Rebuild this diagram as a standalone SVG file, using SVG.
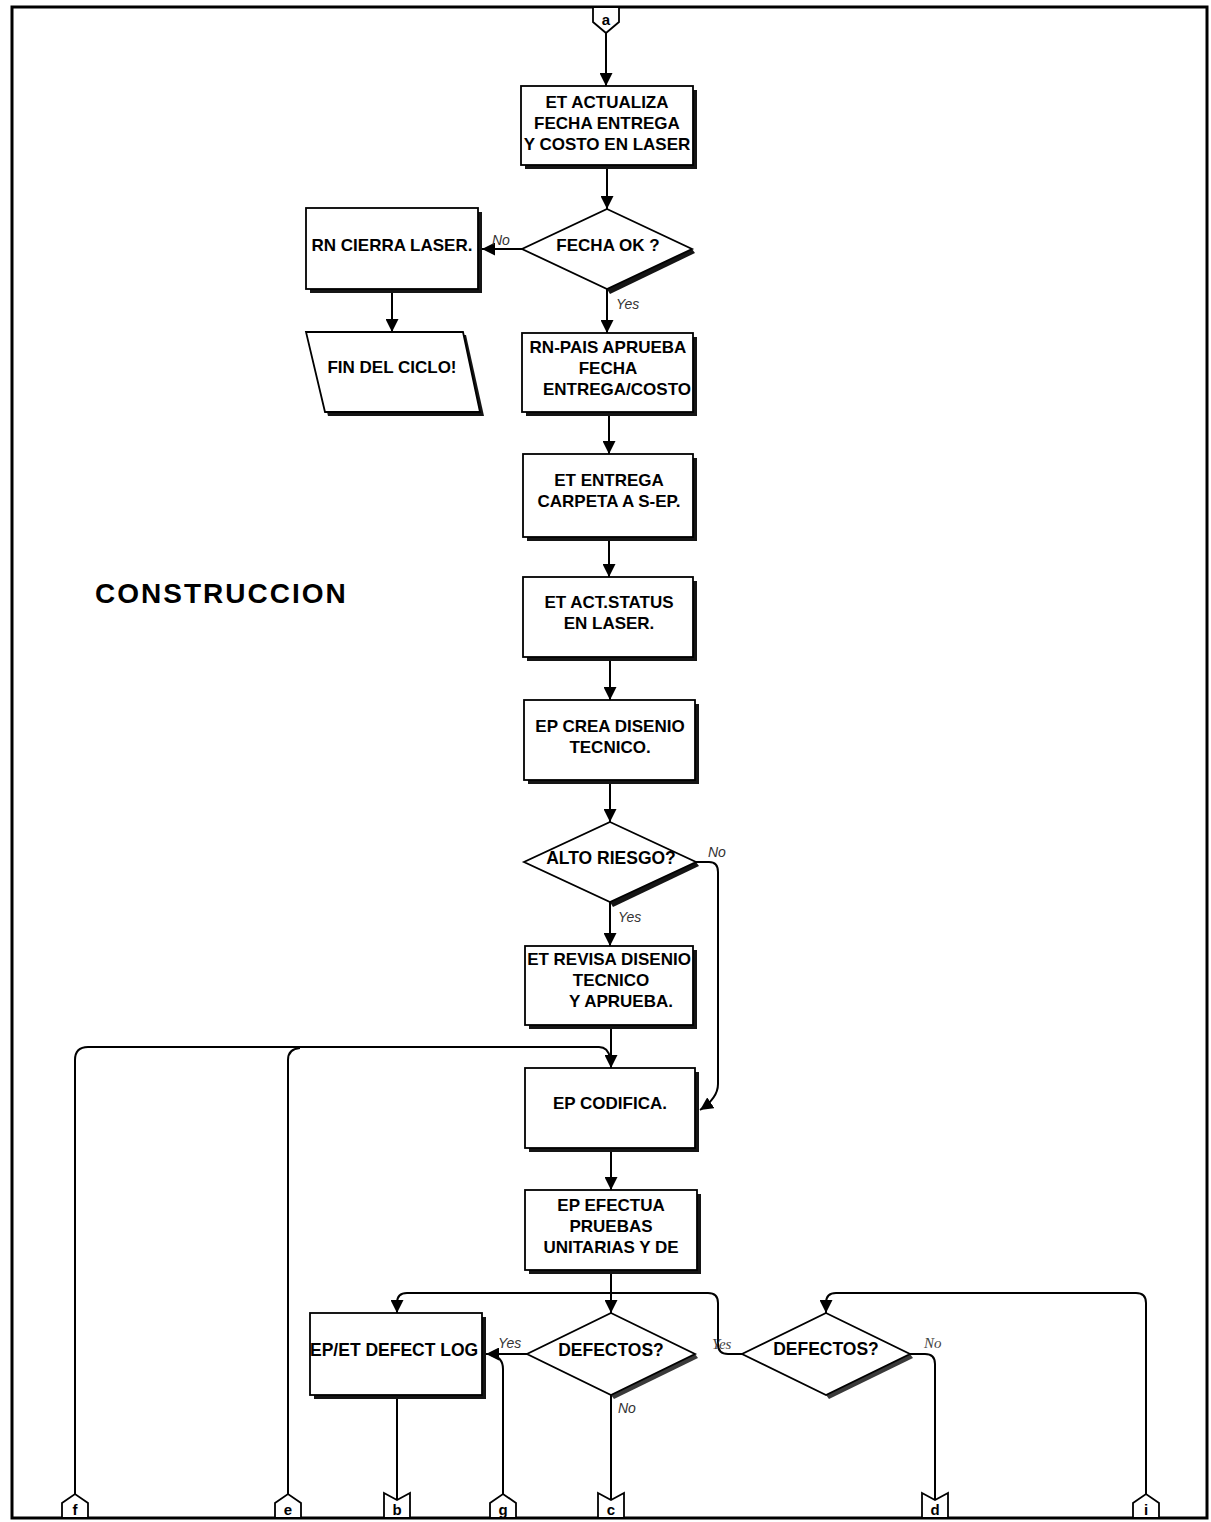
<svg xmlns="http://www.w3.org/2000/svg" width="1211" height="1522" viewBox="0 0 1211 1522">
  <style>
    .box { fill: #fff; stroke: #000; stroke-width: 1.8; }
    .sh { fill: #151515; stroke: none; }
    .sh2 { fill: #3a3a3a; stroke: none; }
    .t { font-family: "Liberation Sans", Arial, sans-serif; font-weight: bold; font-size: 17px; fill: #000; text-anchor: middle; }
    .ts { text-anchor: start; }
    .lbl { font-family: "Liberation Sans", Arial, sans-serif; font-style: italic; font-size: 14px; fill: #333; }
    .lbls { font-family: "Liberation Serif", "Times New Roman", serif; font-style: italic; font-size: 15px; fill: #444; }
    .cn { font-family: "Liberation Sans", Arial, sans-serif; font-weight: bold; font-size: 15px; fill: #000; text-anchor: middle; }
    .ln { fill: none; stroke: #000; stroke-width: 2; }
    .arr { marker-end: url(#ah); }
    .title { font-family: "Liberation Sans", Arial, sans-serif; font-weight: bold; font-size: 28px; letter-spacing: 2px; fill: #000; }
  </style>
  <defs>
    <marker id="ah" viewBox="0 0 10 10" refX="10" refY="5" markerWidth="13" markerHeight="13" markerUnits="userSpaceOnUse" orient="auto">
      <path d="M0,0 L10,5 L0,10 z" fill="#000"/>
    </marker>
    <clipPath id="clipPais">
      <rect x="522" y="333" width="171" height="79"/>
    </clipPath>
  </defs>

  <rect x="0" y="0" width="1211" height="1522" fill="#fff"/>
  <!-- page frame -->
  <rect x="12" y="7" width="1195" height="1511" fill="none" stroke="#000" stroke-width="3"/>

  <text class="title" x="95" y="603">CONSTRUCCION</text>

  <!-- connectors -->
  <g id="connectors">
    <path class="ln arr" d="M606,33 V86"/>
    <path class="ln arr" d="M607,165 V209"/>
    <path class="ln arr" d="M522,249 H482"/>
    <path class="ln arr" d="M392,293 V332"/>
    <path class="ln arr" d="M607,289 V333"/>
    <path class="ln arr" d="M609,412 V454"/>
    <path class="ln arr" d="M609,537 V577"/>
    <path class="ln arr" d="M610,657 V700"/>
    <path class="ln arr" d="M610,780 V822"/>
    <path class="ln arr" d="M610,902 V946"/>
    <path class="ln arr" d="M696,862 H709 Q718,862 718,872 V1084 Q718,1098 700,1110"/>
    <path class="ln arr" d="M611,1025 V1068"/>
    <path class="ln" d="M75,1494 V1060 Q75,1047 88,1047 H599 Q608,1047 610,1058"/>
    <path class="ln" d="M288,1494 V1060 Q288,1049 300,1048"/>
    <path class="ln arr" d="M611,1148 V1190"/>
    <path class="ln arr" d="M611,1270 V1313"/>
    <path class="ln arr" d="M742,1354 H728 Q718,1354 718,1344 V1303 Q718,1293 708,1293 H407 Q397,1293 397,1303 V1313"/>
    <path class="ln arr" d="M527,1354 H486"/>
    <path class="ln" d="M503,1494 V1369 Q503,1357 491,1355"/>
    <path class="ln" d="M397,1399 V1500"/>
    <path class="ln" d="M611,1395 V1500"/>
    <path class="ln" d="M910,1354 H925 Q935,1354 935,1364 V1500"/>
    <path class="ln arr" d="M1146,1494 V1303 Q1146,1293 1136,1293 H836 Q826,1293 826,1303 V1313"/>
  </g>

  <!-- off-page connector a -->
  <g id="conn-a">
    <polygon class="box" points="593,7 619,7 619,22 606,33 593,22"/>
    <text class="cn" x="606" y="25">a</text>
  </g>

  <g id="n-actualiza">
    <rect class="sh" x="525" y="90" width="172" height="79"/>
    <rect class="box" x="521" y="86" width="172" height="79"/>
    <text class="t" x="607" y="108">ET ACTUALIZA</text>
    <text class="t" x="607" y="129">FECHA ENTREGA</text>
    <text class="t" x="607" y="150">Y COSTO EN LASER</text>
  </g>

  <g id="d-fecha">
    <polygon class="sh" points="692,249 695,253 610,294 607,289"/>
    <polygon class="box" points="607,209 692,249 607,289 522,249"/>
    <text class="t" x="608" y="251">FECHA OK ?</text>
  </g>
  <text class="lbl" x="492" y="245">No</text>
  <text class="lbl" x="616" y="309">Yes</text>

  <g id="n-cierra">
    <rect class="sh" x="310" y="212" width="172" height="81"/>
    <rect class="box" x="306" y="208" width="172" height="81"/>
    <text class="t" x="392" y="251">RN CIERRA LASER.</text>
  </g>

  <g id="n-fin">
    <polygon class="sh" points="309,335 466,335 484,416 328,416"/>
    <polygon class="box" points="306,332 463,332 480,412 325,412"/>
    <text class="t" x="392" y="373">FIN DEL CICLO!</text>
  </g>

  <g id="n-pais">
    <rect class="sh" x="526" y="337" width="171" height="79"/>
    <rect class="box" x="522" y="333" width="171" height="79"/>
    <text class="t" x="608" y="353">RN-PAIS APRUEBA</text>
    <text class="t" x="608" y="374">FECHA</text>
    <text class="t ts" x="543" y="395" clip-path="url(#clipPais)">ENTREGA/COSTO</text>
  </g>

  <g id="n-entrega">
    <rect class="sh" x="527" y="458" width="170" height="83"/>
    <rect class="box" x="523" y="454" width="170" height="83"/>
    <text class="t" x="609" y="486">ET ENTREGA</text>
    <text class="t" x="609" y="507">CARPETA A S-EP.</text>
  </g>

  <g id="n-status">
    <rect class="sh" x="527" y="581" width="170" height="80"/>
    <rect class="box" x="523" y="577" width="170" height="80"/>
    <text class="t" x="609" y="608">ET ACT.STATUS</text>
    <text class="t" x="609" y="629">EN LASER.</text>
  </g>

  <g id="n-disenio">
    <rect class="sh" x="528" y="704" width="171" height="80"/>
    <rect class="box" x="524" y="700" width="171" height="80"/>
    <text class="t" x="610" y="732">EP CREA DISENIO</text>
    <text class="t" x="610" y="753">TECNICO.</text>
  </g>

  <g id="d-riesgo">
    <polygon class="sh" points="696,862 699,866 613,907 610,902"/>
    <polygon class="box" points="610,822 696,862 610,902 524,862"/>
    <text class="t" x="611" y="864" style="font-size:17.5px">ALTO RIESGO?</text>
  </g>
  <text class="lbl" x="708" y="857">No</text>
  <text class="lbl" x="618" y="922">Yes</text>

  <g id="n-revisa">
    <rect class="sh" x="529" y="950" width="168" height="79"/>
    <rect class="box" x="525" y="946" width="168" height="79"/>
    <text class="t" x="609" y="965">ET REVISA DISENIO</text>
    <text class="t" x="611" y="986">TECNICO</text>
    <text class="t" x="621" y="1007">Y APRUEBA.</text>
  </g>

  <g id="n-codifica">
    <rect class="sh" x="529" y="1072" width="170" height="80"/>
    <rect class="box" x="525" y="1068" width="170" height="80"/>
    <text class="t" x="610" y="1109">EP CODIFICA.</text>
  </g>

  <g id="n-pruebas">
    <rect class="sh" x="529" y="1194" width="172" height="80"/>
    <rect class="box" x="525" y="1190" width="172" height="80"/>
    <text class="t" x="611" y="1211">EP EFECTUA</text>
    <text class="t" x="611" y="1232">PRUEBAS</text>
    <text class="t" x="611" y="1253">UNITARIAS Y DE</text>
  </g>

  <g id="n-defectlog">
    <rect class="sh" x="314" y="1317" width="172" height="82"/>
    <rect class="box" x="310" y="1313" width="172" height="82"/>
    <text class="t ts" x="310" y="1356" style="font-size:17.5px">EP/ET DEFECT LOG</text>
  </g>

  <g id="d-defectos1">
    <polygon class="sh2" points="695,1354 698,1358 614,1399 611,1395"/>
    <polygon class="box" points="611,1313 695,1354 611,1395 527,1354"/>
    <text class="t" x="611" y="1356" style="font-size:17.5px">DEFECTOS?</text>
  </g>
  <text class="lbl" x="498" y="1348">Yes</text>
  <text class="lbl" x="618" y="1413">No</text>

  <g id="d-defectos2">
    <polygon class="sh2" points="910,1354 913,1358 829,1399 826,1395"/>
    <polygon class="box" points="826,1313 910,1354 826,1395 742,1354"/>
    <text class="t" x="826" y="1355" style="font-size:17.5px">DEFECTOS?</text>
  </g>
  <text class="lbls" x="712" y="1349">Yes</text>
  <text class="lbls" x="924" y="1348">No</text>

  <!-- off-page connectors along the bottom edge -->
  <g id="conn-f">
    <polygon class="box" points="62,1518 62,1503 75,1494 88,1503 88,1518"/>
    <text class="cn" x="75" y="1515">f</text>
  </g>
  <g id="conn-e">
    <polygon class="box" points="275,1518 275,1503 288,1494 301,1503 301,1518"/>
    <text class="cn" x="288" y="1515">e</text>
  </g>
  <g id="conn-b">
    <polygon class="box" points="384,1493 397,1500 410,1493 410,1518 384,1518"/>
    <text class="cn" x="397" y="1515">b</text>
  </g>
  <g id="conn-g">
    <polygon class="box" points="490,1518 490,1503 503,1494 516,1503 516,1518"/>
    <text class="cn" x="503" y="1515">g</text>
  </g>
  <g id="conn-c">
    <polygon class="box" points="598,1493 611,1500 624,1493 624,1518 598,1518"/>
    <text class="cn" x="611" y="1515">c</text>
  </g>
  <g id="conn-d">
    <polygon class="box" points="922,1493 935,1500 948,1493 948,1518 922,1518"/>
    <text class="cn" x="935" y="1515">d</text>
  </g>
  <g id="conn-i">
    <polygon class="box" points="1133,1518 1133,1503 1146,1494 1159,1503 1159,1518"/>
    <text class="cn" x="1146" y="1515" fill="#888">i</text>
  </g>
</svg>
